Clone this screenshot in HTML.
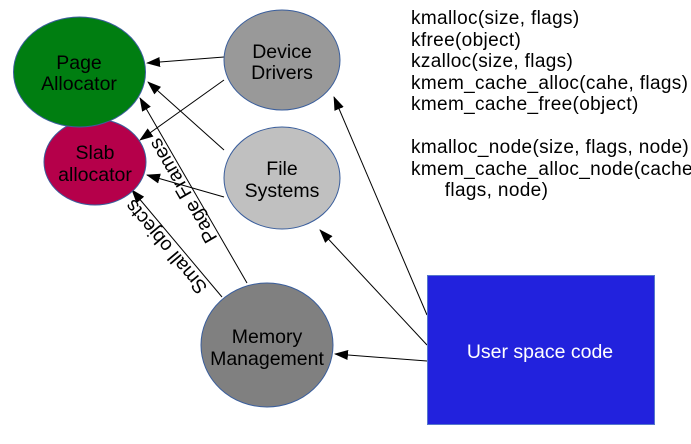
<!DOCTYPE html>
<html><head><style>
body{margin:0;width:691px;height:444px;background:#fff;overflow:hidden;position:relative;font-family:"Liberation Sans",sans-serif}
svg{position:absolute;left:0;top:0}
.t{position:absolute;left:411px;font-size:19px;letter-spacing:0.35px;line-height:21.5px;color:#000;white-space:pre}
</style></head><body>
<svg width="691" height="444" viewBox="0 0 691 444">
<defs><marker id="a" markerWidth="14" markerHeight="10" refX="13" refY="5" orient="auto" markerUnits="userSpaceOnUse"><path d="M0,0 L14,5 L0,10 z" fill="#000"/></marker></defs>
<g stroke="#000" stroke-width="1" marker-end="url(#a)">
<line x1="224" y1="57" x2="147" y2="63"/>
<line x1="224" y1="80" x2="140" y2="140"/>
<line x1="224" y1="150" x2="148" y2="82"/>
<line x1="224" y1="197" x2="147" y2="175"/>
<line x1="247" y1="283" x2="140" y2="98"/>
<line x1="222" y1="297" x2="132" y2="190"/>
<line x1="427" y1="315" x2="334" y2="97"/>
<line x1="427" y1="345" x2="320" y2="230"/>
<line x1="427" y1="361" x2="335" y2="354"/>
</g>
<g stroke="#3a5e9c" stroke-width="1">
<ellipse cx="95" cy="162" rx="51" ry="43" fill="#b5004a"/>
<ellipse cx="79.5" cy="72" rx="66" ry="55" fill="#007e11"/>
<ellipse cx="282" cy="60" rx="58" ry="50" fill="#999"/>
<ellipse cx="282" cy="178" rx="58" ry="51" fill="#c0c0c0"/>
<ellipse cx="267" cy="345" rx="66" ry="62" fill="#808080"/>
<rect x="427.5" y="275.5" width="227" height="149" fill="#2222dd" stroke="#5577cc"/>
</g>
<g font-family="Liberation Sans, sans-serif" font-size="19.5" text-anchor="middle" fill="#000">
<text x="79" y="69">Page</text><text x="79" y="90">Allocator</text>
<text x="95" y="159">Slab</text><text x="95" y="181">allocator</text>
<text x="282" y="58">Device</text><text x="282" y="79">Drivers</text>
<text x="282" y="175">File</text><text x="282" y="197">Systems</text>
<text x="267" y="343">Memory</text><text x="267" y="365">Management</text>
<text x="540" y="358" fill="#fff">User space code</text>
<text transform="translate(184,190) rotate(240)" dominant-baseline="middle">Page Frames</text>
<text transform="translate(167,246) rotate(230)" dominant-baseline="middle">Small objects</text>
</g>
</svg>
<div class="t" style="top:8px">kmalloc(size, flags)
kfree(object)
kzalloc(size, flags)
kmem_cache_alloc(cahe, flags)
kmem_cache_free(object)

kmalloc_node(size, flags, node)
kmem_cache_alloc_node(cache,
      flags, node)</div>
</body></html>
